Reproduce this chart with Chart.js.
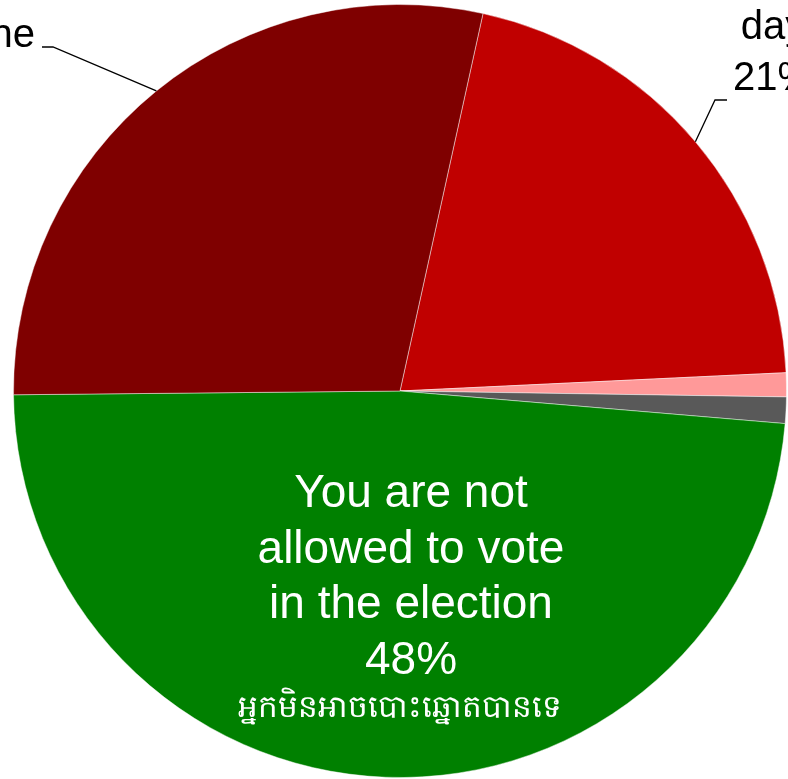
<!DOCTYPE html>
<html>
<head>
<meta charset="utf-8">
<script src="https://cdn.jsdelivr.net/npm/chart.js@4.4.1/dist/chart.umd.min.js"></script>
<style>
  html, body { margin: 0; padding: 0; background: #fff; overflow: hidden; }
  #wrap { width: 788px; height: 779px; }
</style>
</head>
<body>
<div id="wrap"><canvas id="pie"></canvas></div>
<script>
/* slices, clockwise from the red one */
const categories = [
  "You can vote on election day",
  "Don't know",
  "Refused",
  "You are not allowed to vote in the election",
  "You can vote in the"
];
const shares = [20.8, 1.0, 1.1, 48.5, 28.6];
const percentLabels = ["21%", "1%", "1%", "48%", "29%"];
const khmerLine = "អ្នកមិនអាចបោះឆ្នោតបានទេ";
const colors = ["#c00000", "#ff9999", "#595959", "#008000", "#7f0000"];

const FONT = '"Liberation Sans", Arial, sans-serif';

/* label lines per slice (only some get a label) */
const labelLines = {
  0: ["You can vote on election", "day", percentLabels[0]],
  3: ["You are not", "allowed to vote", "in the election", percentLabels[3]],
  4: [percentLabels[4], categories[4]]
};

/* Data labels + leader lines, placed like the Excel original */
const labelPlugin = {
  id: "pieLabels",
  afterDatasetsDraw(chart) {
    const ctx = chart.ctx;
    const arcs = chart.getDatasetMeta(0).data;
    const cx = arcs[0].x, cy = arcs[0].y;

    function leader(i, ex, ey, sx) {
      const a = arcs[i];
      const mid = (a.startAngle + a.endAngle) / 2;
      ctx.beginPath();
      ctx.moveTo(a.x + Math.cos(mid) * a.outerRadius, a.y + Math.sin(mid) * a.outerRadius);
      ctx.lineTo(ex, ey);
      ctx.lineTo(sx, ey);
      ctx.stroke();
    }

    ctx.save();
    ctx.strokeStyle = "#000";
    ctx.lineWidth = 1.3;
    leader(0, cx + 315, cy - 291, cx + 327);
    leader(4, cx - 347, cy - 344, cx - 358);

    ctx.textBaseline = "alphabetic";
    ctx.textAlign = "center";

    /* red slice: outside, top right */
    ctx.fillStyle = "#000";
    ctx.font = "40px " + FONT;
    let lines = labelLines[0];
    lines.forEach(function (t, k) {
      ctx.fillText(t, cx + 373, cy - 301 - (lines.length - 1 - k) * 51);
    });

    /* dark red slice: outside, top left */
    lines = labelLines[4];
    const w = Math.max.apply(null, lines.map(function (t) { return ctx.measureText(t).width; }));
    lines.forEach(function (t, k) {
      ctx.fillText(t, cx - 365 - w / 2, cy - 344 - (lines.length - 1 - k) * 51);
    });

    /* green slice: inside */
    ctx.fillStyle = "#fff";
    ctx.font = "46px " + FONT;
    labelLines[3].forEach(function (t, k) {
      ctx.fillText(t, cx + 11, cy + 116 + k * 55.7);
    });
    ctx.font = "31px " + FONT;
    ctx.fillText(khmerLine, cx, cy + 326);
    ctx.restore();
  }
};

new Chart(document.getElementById("pie"), {
  type: "pie",
  data: {
    labels: categories,
    datasets: [{
      data: shares,
      backgroundColor: colors,
      borderColor: "rgba(255,255,255,0.45)",
      borderWidth: 1
    }]
  },
  options: {
    responsive: true,
    maintainAspectRatio: false,
    animation: false,
    rotation: 12.4,
    layout: { padding: { left: 13, right: 1, top: 4, bottom: 1 } },
    plugins: {
      legend: { display: false },
      tooltip: { enabled: false }
    }
  },
  plugins: [labelPlugin]
});
</script>
</body>
</html>
